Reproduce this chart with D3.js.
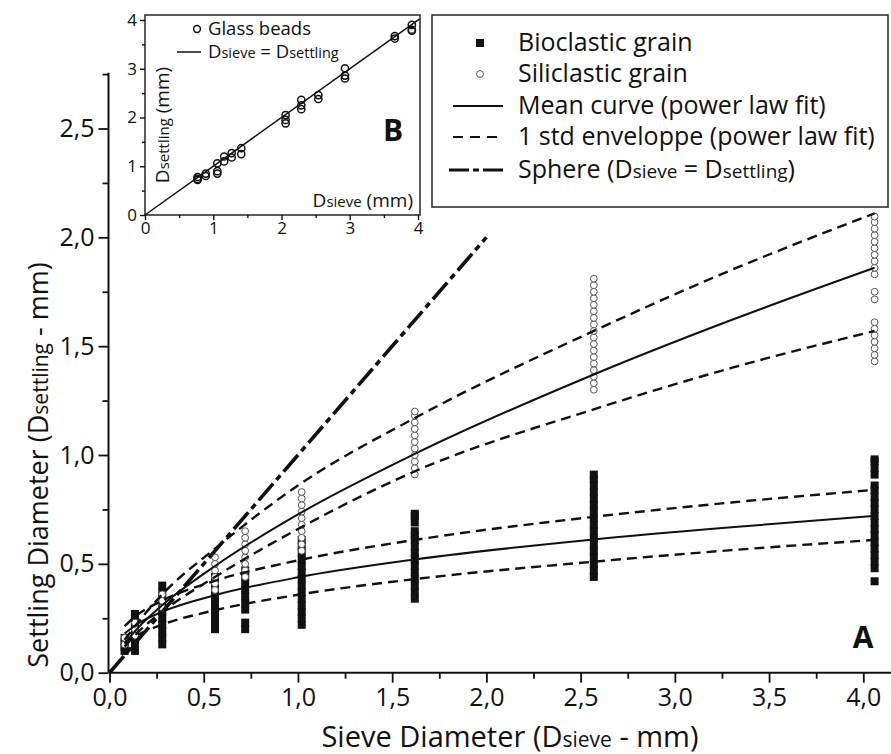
<!DOCTYPE html>
<html><head><meta charset="utf-8">
<script src="https://cdn.jsdelivr.net/npm/d3@7"></script>
<style>
body{margin:0;background:#fff}
svg{display:block}
text{font-family:"Open Sans",sans-serif;fill:#111}
</style>
</head><body>
<svg id="c" width="891" height="754"></svg>
<script>
// ---------------- DATA ----------------
const sieveSizes = [0.08, 0.135, 0.28, 0.56, 0.72, 1.02, 1.62, 2.57, 4.06];
const bioclastic = [
  [0.10,0.12,0.14,0.16],
  [0.10,0.13,0.16,0.19,0.22,0.25,0.27],
  [0.13,0.16,0.19,0.22,0.25,0.28,0.31,0.34,0.37,0.40],
  [0.20,0.23,0.26,0.29,0.32,0.35,0.38,0.41,0.44],
  [0.20,0.23,0.29,0.32,0.35,0.38,0.41,0.44,0.47],
  [0.22,0.25,0.28,0.31,0.34,0.37,0.40,0.43,0.46,0.49,0.52,0.55,0.58,0.61],
  [0.34,0.37,0.40,0.43,0.46,0.49,0.52,0.55,0.58,0.61,0.63,0.65,0.69,0.72,0.73],
  [0.44,0.47,0.50,0.53,0.56,0.59,0.62,0.65,0.68,0.71,0.74,0.77,0.80,0.83,0.86,0.89,0.91],
  [0.42,0.48,0.51,0.54,0.57,0.60,0.63,0.66,0.69,0.72,0.75,0.78,0.81,0.84,0.86,0.91,0.94,0.97,0.98]
];
const siliclastic = [
  [0.13,0.16],
  [0.17,0.20,0.23],
  [0.30,0.33,0.36],
  [0.38,0.41,0.44,0.47,0.50,0.53],
  [0.44,0.47,0.50,0.53,0.56,0.59,0.62,0.65],
  [0.56,0.59,0.62,0.65,0.68,0.71,0.74,0.77,0.80,0.83],
  [0.91,0.94,0.97,1.00,1.03,1.06,1.09,1.12,1.15,1.18,1.20],
  [1.30,1.33,1.36,1.39,1.42,1.45,1.48,1.51,1.54,1.57,1.60,1.63,1.66,1.69,1.72,1.75,1.78,1.81],
  [1.43,1.46,1.49,1.52,1.55,1.58,1.61,1.715,1.75,1.83,1.86,1.89,1.92,1.95,1.98,2.01,2.04,2.07,2.095]
];
// power-law fit curves, read at these sieve diameters
const curveX   = [0.08, 0.15, 0.28, 0.56, 1.0, 1.62, 2.57, 3.3, 4.06];
const silMean  = [0.134,0.205,0.31,0.49,0.727,1.005,1.37,1.62,1.86];
const silUpper = [0.15,0.23,0.36,0.57,0.86,1.17,1.57,1.85,2.11];
const silLower = [0.12,0.185,0.28,0.44,0.66,0.925,1.21,1.40,1.57];
const bioMean  = [0.18,0.225,0.28,0.356,0.438,0.52,0.612,0.668,0.72];
const bioUpper = [0.214,0.267,0.331,0.422,0.516,0.61,0.716,0.782,0.84];
const bioLower = [0.137,0.174,0.221,0.287,0.358,0.43,0.51,0.563,0.61];
const sphereX  = [0, 2.0];
const sphereY  = [0, 2.0];

// inset B: glass beads
const glassX = [0.77,0.77,0.77,0.89,0.89,1.06,1.06,1.06,1.16,1.16,1.27,1.27,1.41,1.41,
                2.06,2.06,2.06,2.29,2.29,2.29,2.54,2.54,2.93,2.93,2.93,3.66,3.66,3.91,3.91,3.91];
const glassY = [0.72,0.74,0.78,0.80,0.85,0.85,0.90,1.06,1.10,1.20,1.18,1.27,1.25,1.37,
                1.88,1.95,2.05,2.17,2.25,2.36,2.38,2.46,2.80,2.86,3.01,3.62,3.67,3.78,3.80,3.90];
const identityX = [0, 4.02];

const xTicks = [0,0.5,1,1.5,2,2.5,3,3.5,4];
const xMinor = [0.25,0.75,1.25,1.75,2.25,2.75,3.25,3.75];
const yTicks = [0,0.5,1,1.5,2,2.5];
const yMinor = [0.25,0.75,1.25,1.75,2.25,2.75];
const insetTicks = [0,1,2,3,4];
const insetMinor = [0.5,1.5,2.5,3.5];
const legendLabels = ["Bioclastic grain","Siliclastic grain","Mean curve (power law fit)",
                      "1 std enveloppe (power law fit)","Sphere (Dsieve = Dsettling)"];

// ---------------- DRAW ----------------
const svg = d3.select("#c");
const ink = "#111";
const x = d3.scaleLinear().domain([0,4]).range([109.5,863.3]);
const y = d3.scaleLinear().domain([0,2.5]).range([672.7,128.5]);
const fmt = v => d3.format(".1f")(v).replace(".", ",");

// axes
const gx = svg.append("g").attr("transform",`translate(0,${y(0)})`);
gx.call(d3.axisBottom(x).tickValues(xTicks).tickSize(10).tickSizeOuter(0).tickPadding(6).tickFormat(fmt));
gx.append("g").call(d3.axisBottom(x).tickValues(xMinor).tickSize(6).tickSizeOuter(0).tickFormat(""))
  .select(".domain").remove();
gx.select(".domain").remove();
gx.append("line").attr("x1",x(0)).attr("x2",x(4.2)).attr("stroke",ink).attr("stroke-width",2);
gx.selectAll("text").attr("font-size",25).style("fill",ink);

const gy = svg.append("g").attr("transform",`translate(${x(0)-1},0)`);
gy.call(d3.axisLeft(y).tickValues(yTicks).tickSize(10).tickSizeOuter(0).tickPadding(4).tickFormat(fmt));
gy.append("g").call(d3.axisLeft(y).tickValues(yMinor).tickSize(6).tickSizeOuter(0).tickFormat(""))
  .select(".domain").remove();
gy.select(".domain").remove();
gy.append("line").attr("y1",y(0)).attr("y2",y(2.756)).attr("stroke",ink).attr("stroke-width",2);
gy.selectAll("text").attr("font-size",25).style("fill",ink);
svg.selectAll(".tick line").attr("stroke",ink).attr("stroke-width",1.8);

// markers
sieveSizes.forEach((s,i)=>{
  svg.append("g").selectAll("rect").data(bioclastic[i]).join("rect")
    .attr("x",x(s)-4).attr("y",d=>y(d)-4).attr("width",8).attr("height",8).attr("fill",ink);
});
sieveSizes.forEach((s,i)=>{
  svg.append("g").selectAll("circle").data(siliclastic[i]).join("circle")
    .attr("cx",x(s)).attr("cy",d=>y(d)).attr("r",3.4)
    .attr("fill","#fff").attr("stroke","#555").attr("stroke-width",1);
});

// curves
const line = d3.line().x(d=>x(d[0])).y(d=>y(d[1])).curve(d3.curveMonotoneX);
const curves = [
  [silMean,"none",2],[silUpper,"10,6",2.4],[silLower,"10,6",2.4],
  [bioMean,"none",2],[bioUpper,"10,6",2.4],[bioLower,"10,6",2.4]
];
curves.forEach(([vals,dash,w])=>{
  svg.append("path").datum(curveX.map((cx,i)=>[cx,vals[i]]))
    .attr("d",line).attr("fill","none").attr("stroke",ink).attr("stroke-width",w)
    .attr("stroke-dasharray",dash);
});
svg.append("path").datum(sphereX.map((v,i)=>[v,sphereY[i]]))
  .attr("d",d3.line().x(d=>x(d[0])).y(d=>y(d[1])))
  .attr("fill","none").attr("stroke",ink).attr("stroke-width",3.6)
  .attr("stroke-dasharray","22,5,6,5");

// A label
svg.append("text").attr("x",863).attr("y",648).attr("text-anchor","middle")
  .attr("font-size",30).attr("font-weight","bold").text("A");

// axis titles
const xt = svg.append("text").attr("x",510).attr("y",747).attr("text-anchor","middle").attr("font-size",29);
xt.append("tspan").text("Sieve Diameter (D");
xt.append("tspan").attr("font-size",21).text("sieve");
xt.append("tspan").text(" - mm)");
const yt = svg.append("text").attr("transform","translate(48,465) rotate(-90)").attr("text-anchor","middle").attr("font-size",27);
yt.append("tspan").text("Settling Diameter (D");
yt.append("tspan").attr("font-size",21).text("settling");
yt.append("tspan").text(" - mm)");

// legend
const lg = svg.append("g");
lg.append("rect").attr("x",432).attr("y",15).attr("width",456).attr("height",192)
  .attr("fill","#fff").attr("stroke","#333").attr("stroke-width",1.6);
const rowY = [43,74,106,137,170];
lg.append("rect").attr("x",476).attr("y",rowY[0]-4).attr("width",8).attr("height",8).attr("fill",ink);
lg.append("circle").attr("cx",480).attr("cy",rowY[1]).attr("r",3.4).attr("fill","#fff").attr("stroke","#555");
lg.append("line").attr("x1",453).attr("x2",503).attr("y1",rowY[2]).attr("y2",rowY[2]).attr("stroke",ink).attr("stroke-width",2);
lg.append("line").attr("x1",453).attr("x2",503).attr("y1",rowY[3]).attr("y2",rowY[3]).attr("stroke",ink).attr("stroke-width",2)
  .attr("stroke-dasharray","10,7");
lg.append("line").attr("x1",449).attr("x2",504).attr("y1",rowY[4]).attr("y2",rowY[4]).attr("stroke",ink).attr("stroke-width",3)
  .attr("stroke-dasharray","20,4,6,4");
legendLabels.forEach((t,i)=>{
  const tx = lg.append("text").attr("x",518).attr("y",rowY[i]+8).attr("font-size",25);
  if(i===4){
    tx.append("tspan").text("Sphere (D");
    tx.append("tspan").attr("font-size",19).text("sieve");
    tx.append("tspan").text(" = D");
    tx.append("tspan").attr("font-size",19).text("settling");
    tx.append("tspan").text(")");
  } else tx.text(t);
});

// inset B
const ix = d3.scaleLinear().domain([0,4]).range([145,418]);
const iy = d3.scaleLinear().domain([0,4]).range([215,20]);
const ig = svg.append("g");
ig.append("rect").attr("x",145).attr("y",15).attr("width",275).attr("height",200)
  .attr("fill","#fff").attr("stroke","#333").attr("stroke-width",1.6);
const igx = ig.append("g").attr("transform",`translate(0,${iy(0)})`);
igx.call(d3.axisBottom(ix).tickValues(insetTicks).tickSize(5).tickSizeOuter(0).tickPadding(2).tickFormat(d3.format("d")));
igx.append("g").call(d3.axisBottom(ix).tickValues(insetMinor).tickSize(3).tickSizeOuter(0).tickFormat("")).select(".domain").remove();
igx.selectAll(".domain").remove();
const igy = ig.append("g").attr("transform",`translate(${ix(0)},0)`);
igy.call(d3.axisLeft(iy).tickValues(insetTicks).tickSize(5).tickSizeOuter(0).tickPadding(3).tickFormat(d3.format("d")));
igy.append("g").call(d3.axisLeft(iy).tickValues(insetMinor).tickSize(3).tickSizeOuter(0).tickFormat("")).select(".domain").remove();
igy.selectAll(".domain").remove();
ig.selectAll("text").attr("font-size",17).style("fill",ink);
ig.selectAll(".tick line").attr("stroke",ink).attr("stroke-width",1.4);

ig.append("path").datum(identityX.map(v=>[v,v]))
  .attr("d",d3.line().x(d=>ix(d[0])).y(d=>iy(d[1])))
  .attr("fill","none").attr("stroke",ink).attr("stroke-width",1.5);
ig.append("g").selectAll("circle").data(glassX.map((v,i)=>[v,glassY[i]])).join("circle")
  .attr("cx",d=>ix(d[0])).attr("cy",d=>iy(d[1])).attr("r",3.6)
  .attr("fill","none").attr("stroke",ink).attr("stroke-width",1.5);

// inset legend
ig.append("circle").attr("cx",197).attr("cy",29).attr("r",3.4).attr("fill","none").attr("stroke",ink).attr("stroke-width",1.5);
ig.append("text").attr("x",208).attr("y",35).attr("font-size",18.5).text("Glass beads");
ig.append("line").attr("x1",177).attr("x2",201).attr("y1",52).attr("y2",52).attr("stroke",ink).attr("stroke-width",1.5);
const il = ig.append("text").attr("x",208).attr("y",58).attr("font-size",18.5);
il.append("tspan").text("D"); il.append("tspan").attr("font-size",14.5).text("sieve");
il.append("tspan").text(" = D"); il.append("tspan").attr("font-size",14.5).text("settling");

const iyt = ig.append("text").attr("transform","translate(169,125) rotate(-90)").attr("text-anchor","middle").attr("font-size",19);
iyt.append("tspan").text("D"); iyt.append("tspan").attr("font-size",15).text("settling"); iyt.append("tspan").text(" (mm)");
const ixt = ig.append("text").attr("x",413).attr("y",207).attr("text-anchor","end").attr("font-size",19);
ixt.append("tspan").text("D"); ixt.append("tspan").attr("font-size",15).text("sieve"); ixt.append("tspan").text(" (mm)");
ig.append("text").attr("x",393).attr("y",141).attr("text-anchor","middle").attr("font-size",30).attr("font-weight","bold").text("B");
</script>
</body></html>
